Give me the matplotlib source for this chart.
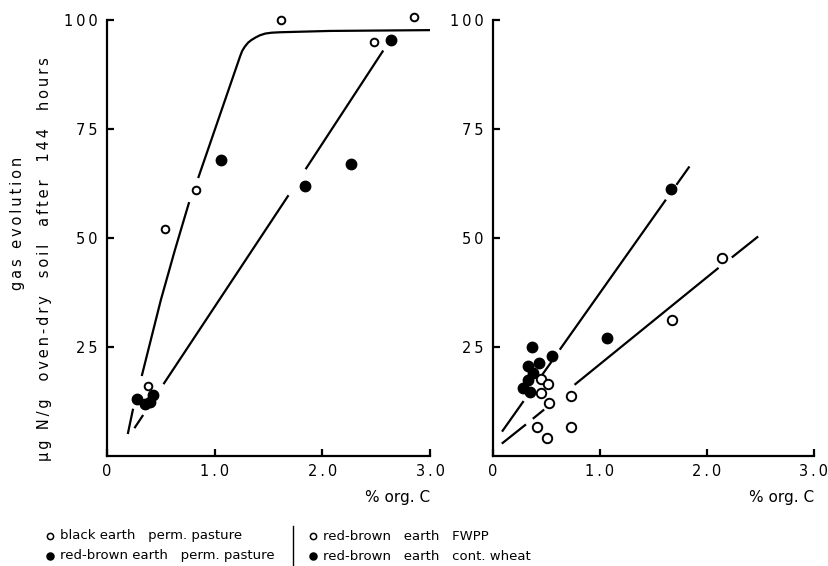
import matplotlib
matplotlib.use("Agg")
import matplotlib.pyplot as plt
from matplotlib.lines import Line2D
import numpy as np

nan = np.nan

# left panel: perm. pasture soils
black_x = [0.38, 0.54, 0.83, 1.62, 2.48, 2.85]
black_y = [16, 52, 61, 100, 95, 100.7]
rbpp_x = [0.28, 0.35, 0.40, 0.43, 1.06, 1.84, 2.27, 2.64]
rbpp_y = [13, 12, 12.5, 14, 68, 62, 67, 95.5]

# hand-drawn fitted curves (nan = break in the line)
black_fit_x = [0.195, 0.24, nan, 0.325, 0.50, 0.63, 0.76, nan, 0.85, 1.235, 1.255, 1.28,
               1.31, 1.34, 1.38, 1.42, 1.47, 1.53, 1.61, 2.07, 3.07]
black_fit_y = [5.3, 10.6, nan, 18.6, 35.8, 47.2, 58.0, nan, 64.0, 91.6, 92.9, 93.9,
               94.8, 95.4, 96.0, 96.5, 96.9, 97.1, 97.2, 97.5, 97.7]
rbpp_fit_x = [0.26, 0.33, nan, 0.53, 1.68, nan, 1.85, 2.56]
rbpp_fit_y = [6.6, 9.2, nan, 16.7, 59.6, nan, 66.0, 92.8]

# right panel: red-brown earth, FWPP vs cont. wheat
fwpp_x = [0.45, 0.51, 0.45, 0.73, 0.52, 0.41, 0.73, 0.50, 1.67, 2.14]
fwpp_y = [17.7, 16.5, 14.4, 13.8, 12.2, 6.7, 6.7, 4.1, 31.2, 45.4]
wheat_x = [0.36, 0.55, 0.43, 0.33, 0.37, 0.33, 0.28, 0.35, 1.07, 1.66]
wheat_y = [25.0, 22.9, 21.3, 20.6, 19.0, 17.4, 15.6, 14.7, 27.1, 61.2]

fwpp_fit_x = [0.09, 0.30, nan, 0.38, 0.47, nan, 0.77, 2.10, nan, 2.24, 2.47]
fwpp_fit_y = [3.0, 7.1, nan, 8.7, 10.5, nan, 16.5, 43.0, nan, 45.7, 50.2]
wheat_fit_x = [0.09, 0.28, nan, 0.45, 0.54, nan, 0.63, 1.61, nan, 1.72, 1.83]
wheat_fit_y = [5.8, 12.4, nan, 18.3, 21.4, nan, 24.6, 58.6, nan, 62.4, 66.2]

x_ticks = [0, 1, 2, 3]
x_labels = ["0", "1.0", "2.0", "3.0"]
y_ticks = [25, 50, 75, 100]
y_labels = ["25", "50", "75", "100"]


def spaced(s):
    # wide letter spacing like the stencil lettering of the original
    return "\u2009".join(s)


plt.rcParams['font.family'] = 'DejaVu Sans'
fs = 10.5

fig = plt.figure(figsize=(8.29, 5.66), dpi=100)
ax1 = fig.add_axes([0.1291, 0.1943, 0.3896, 0.7703])
ax2 = fig.add_axes([0.5947, 0.1943, 0.3872, 0.7703])

for ax in (ax1, ax2):
    ax.set_xlim(0, 3)
    ax.set_ylim(0, 100)
    for s in ['top', 'right']:
        ax.spines[s].set_visible(False)
    for s in ['left', 'bottom']:
        ax.spines[s].set_linewidth(1.6)
    ax.set_xticks(x_ticks)
    ax.set_xticklabels([spaced(t) for t in x_labels])
    ax.set_yticks(y_ticks)
    ax.set_yticklabels([spaced(t) for t in y_labels])
    ax.tick_params(direction='in', length=5, width=1.6, labelsize=fs, pad=7)
    ax.tick_params(axis='x', pad=6)
    ax.text(1.0, -0.094, "% org. C", transform=ax.transAxes, ha='right', va='center',
            fontsize=fs + 0.5)

# left panel
ax1.plot(black_fit_x, black_fit_y, color='black', lw=1.6)
ax1.plot(rbpp_fit_x, rbpp_fit_y, color='black', lw=1.6)
ax1.plot(black_x, black_y, 'o', ms=5.5, mfc='white', mec='black', mew=1.4, clip_on=False)
ax1.plot(rbpp_x, rbpp_y, 'o', ms=7.5, mfc='black', mec='black', clip_on=False)

# right panel
ax2.plot(fwpp_fit_x, fwpp_fit_y, color='black', lw=1.6)
ax2.plot(wheat_fit_x, wheat_fit_y, color='black', lw=1.6)
ax2.plot(fwpp_x, fwpp_y, 'o', ms=6.8, mfc='white', mec='black', mew=1.4, clip_on=False)
ax2.plot(wheat_x, wheat_y, 'o', ms=7.5, mfc='black', mec='black', clip_on=False)

# y axis label (two lines)
fig.text(18 / 829, 1 - 223 / 566, spaced("gas evolution"), rotation=90, ha='center',
         va='center', fontsize=fs)
fig.text(45 / 829, 1 - 259 / 566, spaced("\u03bcg N/g  oven-dry  soil  after  144  hours"),
         rotation=90, ha='center', va='center', fontsize=fs)

# legend below the panels
lfs = 9.5


def legend_row(x, y, filled, label):
    fig.add_artist(Line2D([x / 829], [1 - y / 566], marker='o', ms=4.5 if not filled else 5,
                          mfc='black' if filled else 'white', mec='black', mew=1.1,
                          transform=fig.transFigure))
    fig.text((x + 10) / 829, 1 - y / 566, label, ha='left', va='center', fontsize=lfs)


legend_row(50, 536, False, "black earth   perm. pasture")
legend_row(50, 556, True, "red-brown earth   perm. pasture")
legend_row(313, 536, False, "red-brown   earth   FWPP")
legend_row(313, 556, True, "red-brown   earth   cont. wheat")
fig.add_artist(Line2D([293 / 829, 293 / 829], [1 - 526 / 566, 0.0], color='black', lw=1.0,
                      transform=fig.transFigure))

fig.savefig("out.png", dpi=100)
